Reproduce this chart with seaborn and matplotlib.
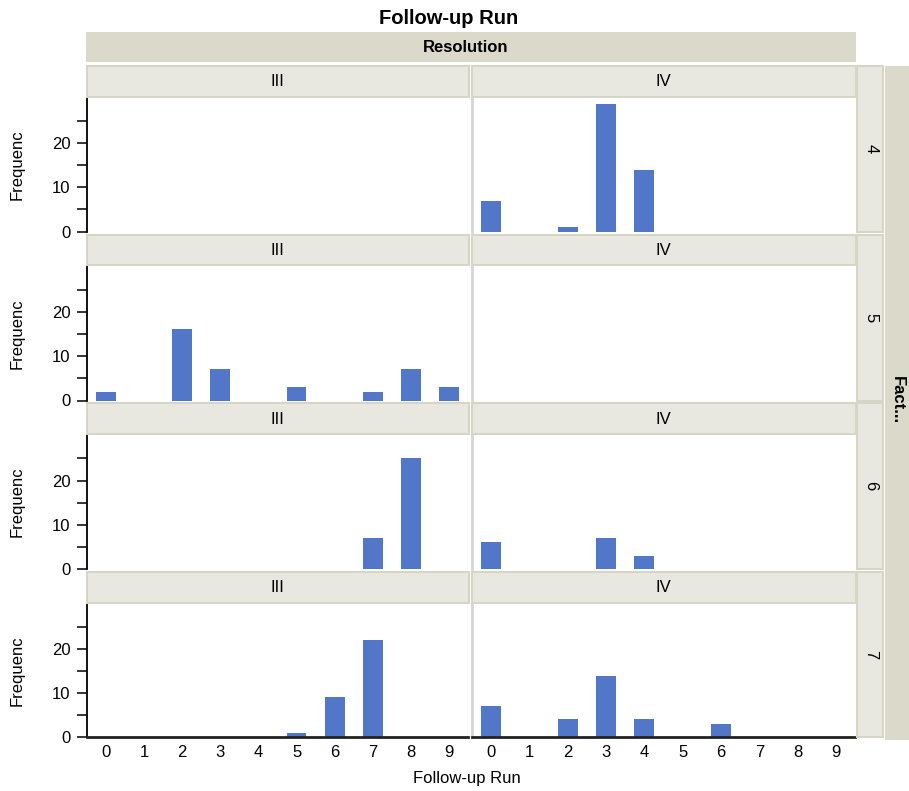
import numpy as np
import pandas as pd
import matplotlib
matplotlib.use('Agg')
import matplotlib.pyplot as plt
import seaborn as sns
from matplotlib.patches import Rectangle

# ============================================
# DATA
# ============================================
runs = list(range(10))
factors = [4, 5, 6, 7]
resolutions = ['III', 'IV']

# frequency of each follow-up run (0..9), one list per panel
res3_f4 = [0, 0, 0, 0, 0, 0, 0, 0, 0, 0]
res3_f5 = [2, 0, 16, 7, 0, 3, 0, 2, 7, 3]
res3_f6 = [0, 0, 0, 0, 0, 0, 0, 7, 25, 0]
res3_f7 = [0, 0, 0, 0, 0, 1, 9, 22, 0, 0]
res4_f4 = [7, 0, 1, 29, 14, 0, 0, 0, 0, 0]
res4_f5 = [0, 0, 0, 0, 0, 0, 0, 0, 0, 0]
res4_f6 = [6, 0, 0, 7, 3, 0, 0, 0, 0, 0]
res4_f7 = [7, 0, 4, 14, 4, 0, 3, 0, 0, 0]

y_major = [0, 10, 20]
y_minor = [5, 15, 25]

panels = {('III', 4): res3_f4, ('III', 5): res3_f5, ('III', 6): res3_f6, ('III', 7): res3_f7,
          ('IV', 4): res4_f4, ('IV', 5): res4_f5, ('IV', 6): res4_f6, ('IV', 7): res4_f7}
rows = []
for (res, fac), vals in panels.items():
    for r, v in zip(runs, vals):
        rows.append({'Resolution': res, 'Factors': fac, 'Run': r, 'Frequency': v})
df = pd.DataFrame(rows)

# ============================================
# STYLE
# ============================================
sns.set_style('white')
plt.rcParams['font.family'] = ['Liberation Sans', 'DejaVu Sans']
plt.rcParams['text.color'] = 'black'
plt.rcParams['axes.labelcolor'] = 'black'
plt.rcParams['xtick.color'] = 'black'
plt.rcParams['ytick.color'] = 'black'

BLUE = '#5377C8'
HEAD = '#DBD9C9'
STRIP = '#E8E8E0'
EDGE = '#D6D5C8'
W, H = 909, 791


def fx(x):
    return x / W


def fy(y):
    return 1 - y / H


# ============================================
# PLOT
# ============================================
g = sns.FacetGrid(df, row='Factors', col='Resolution', row_order=factors,
                  col_order=resolutions, sharex=True, sharey=True, despine=False)
g.map_dataframe(sns.barplot, x='Run', y='Frequency', order=runs,
                color=BLUE, width=0.52, errorbar=None, saturation=1, linewidth=0)
fig = g.figure
fig.set_size_inches(W / 100, H / 100)

col_x = [(87, 468), (472, 855)]
plot_top = [98, 266, 435, 604]
plot_bot = [231.5, 400.5, 569, 737]
strip_top = [66, 235, 403, 572]

for i in range(4):
    for j in range(2):
        ax = g.axes[i, j]
        x0, x1 = col_x[j]
        ax.set_position([fx(x0), fy(plot_bot[i]), (x1 - x0) / W,
                         (plot_bot[i] - plot_top[i]) / H])
        ax.set_title('')
        ax.set_xlim(-0.5, 9.5)
        ax.set_ylim(0, 30.3)
        ax.spines['top'].set_visible(False)
        ax.spines['right'].set_visible(False)
        if j == 0:
            ax.spines['left'].set_color('black')
            ax.spines['left'].set_linewidth(1.3)
            ax.set_yticks(y_major)
            ax.set_yticks(y_minor, minor=True)
            ax.tick_params(axis='y', which='both', direction='out', length=7,
                           width=1.1, labelsize=12, pad=5, left=True)
            ax.set_ylabel('Frequenc', fontsize=12)
            ax.yaxis.set_label_coords(-0.165, 0.5)
        else:
            ax.spines['left'].set_color('#D6D6D6')
            ax.spines['left'].set_linewidth(2)
            ax.tick_params(axis='y', which='both', left=False, labelleft=False)
            ax.set_ylabel('')
        if i == 3:
            ax.spines['bottom'].set_color('#222222')
            ax.spines['bottom'].set_linewidth(2)
            ax.set_xticks(range(len(runs)))
            ax.set_xticklabels([str(r) for r in runs])
            ax.tick_params(axis='x', length=0, labelsize=12, pad=6, labelbottom=True)
        else:
            ax.spines['bottom'].set_visible(False)
            ax.tick_params(axis='x', length=0, labelbottom=False)
        ax.set_xlabel('')

        # column strip above each panel
        fig.add_artist(Rectangle((fx(x0 - 0.5), fy(plot_top[i] - 1)), (x1 - x0 + 1) / W,
                                 (plot_top[i] - 1 - strip_top[i]) / H,
                                 transform=fig.transFigure, facecolor=STRIP,
                                 edgecolor=EDGE, lw=1.5))
        fig.text(fx((x0 + x1) / 2), fy((strip_top[i] + plot_top[i]) / 2), resolutions[j],
                 ha='center', va='center', fontsize=12)

    # row strip on the right
    fig.add_artist(Rectangle((fx(857), fy(plot_bot[i])), 26 / W,
                             (plot_bot[i] - strip_top[i]) / H,
                             transform=fig.transFigure, facecolor=STRIP,
                             edgecolor=EDGE, lw=1.5))
    fig.text(fx(871), fy((strip_top[i] + plot_bot[i]) / 2), str(factors[i]),
             ha='center', va='center', rotation=270, fontsize=12)

# outer headers
fig.add_artist(Rectangle((fx(86), fy(62)), (856 - 86) / W, 30 / H,
                         transform=fig.transFigure, facecolor=HEAD, edgecolor='none'))
fig.text(fx(466), fy(47), 'Resolution', ha='center', va='center',
         fontsize=12, fontweight='bold')
fig.add_artist(Rectangle((fx(885), fy(740)), 24 / W, (740 - 66) / H,
                         transform=fig.transFigure, facecolor=HEAD, edgecolor='none'))
fig.text(fx(897), fy(400), 'Fact...', ha='center', va='center', rotation=270,
         fontsize=12, fontweight='bold')

fig.text(fx(449), fy(18), 'Follow-up Run', ha='center', va='center',
         fontsize=14.5, fontweight='bold')
fig.text(fx(467), fy(778), 'Follow-up Run', ha='center', va='center', fontsize=12)

fig.savefig('out.png', dpi=100)
plt.close()
